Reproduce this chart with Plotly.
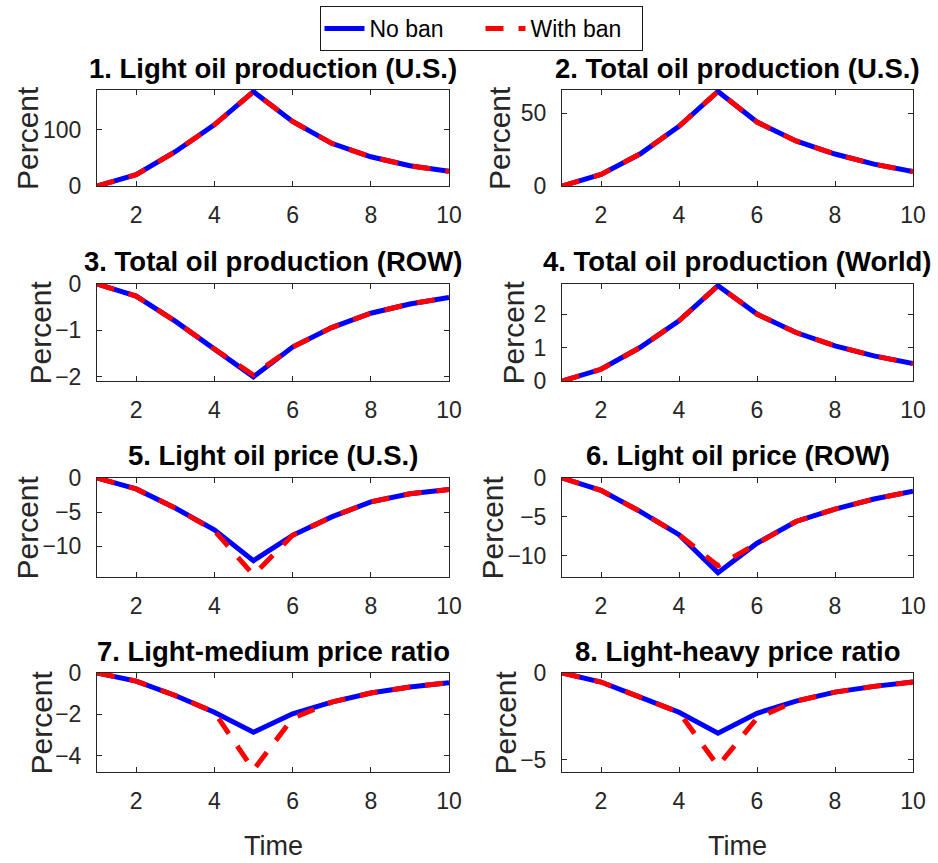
import plotly.graph_objects as go

W, H = 938, 863

# ---------------- data ----------------
time = [1, 2, 3, 4, 5, 6, 7, 8, 9, 10]

titles = [
    "1. Light oil production (U.S.)",
    "2. Total oil production (U.S.)",
    "3. Total oil production (ROW)",
    "4. Total oil production (World)",
    "5. Light oil price (U.S.)",
    "6. Light oil price (ROW)",
    "7. Light-medium price ratio",
    "8. Light-heavy price ratio",
]

p1_no_ban = [0, 20, 61, 109, 168, 115, 76, 52, 36, 26]
p1_with_ban = [0, 20, 61, 109, 168, 115, 76, 52, 36, 26]

p2_no_ban = [0, 8, 22, 41, 65, 44, 31, 22, 15, 10]
p2_with_ban = [0, 8, 22, 41, 65, 44, 31, 22, 15, 10]

p3_no_ban = [0, -0.26, -0.8, -1.4, -2.0, -1.36, -0.94, -0.63, -0.43, -0.29]
p3_with_ban = [0, -0.26, -0.8, -1.4, -1.96, -1.36, -0.94, -0.63, -0.43, -0.29]

p4_no_ban = [0, 0.35, 1.0, 1.8, 2.85, 2.0, 1.45, 1.05, 0.75, 0.52]
p4_with_ban = [0, 0.35, 1.0, 1.8, 2.85, 2.0, 1.45, 1.05, 0.75, 0.52]

p5_no_ban = [0, -1.6, -4.4, -7.6, -12.1, -8.4, -5.7, -3.5, -2.3, -1.7]
p5_with_ban = [0, -1.6, -4.4, -7.7, -14.2, -8.4, -5.7, -3.5, -2.3, -1.7]

p6_no_ban = [0, -1.6, -4.3, -7.3, -12.2, -8.4, -5.6, -4.0, -2.7, -1.7]
p6_with_ban = [0, -1.6, -4.3, -7.3, -11.3, -8.5, -5.6, -4.0, -2.7, -1.7]

p7_no_ban = [0, -0.39, -1.09, -1.9, -2.87, -1.98, -1.41, -0.97, -0.68, -0.47]
p7_with_ban = [0, -0.39, -1.09, -1.9, -4.7, -2.2, -1.41, -0.97, -0.68, -0.47]

p8_no_ban = [0, -0.52, -1.39, -2.26, -3.47, -2.32, -1.62, -1.1, -0.77, -0.52]
p8_with_ban = [0, -0.52, -1.39, -2.26, -5.35, -2.6, -1.62, -1.1, -0.77, -0.52]

no_ban_series = [p1_no_ban, p2_no_ban, p3_no_ban, p4_no_ban,
                 p5_no_ban, p6_no_ban, p7_no_ban, p8_no_ban]
with_ban_series = [p1_with_ban, p2_with_ban, p3_with_ban, p4_with_ban,
                   p5_with_ban, p6_with_ban, p7_with_ban, p8_with_ban]

x_ticks = [2, 4, 6, 8, 10]
y_ticks = [
    [0, 100],
    [0, 50],
    [-2, -1, 0],
    [0, 1, 2],
    [-10, -5, 0],
    [-10, -5, 0],
    [-4, -2, 0],
    [-5, 0],
]
y_ranges = [
    [0, 171],
    [0, 66],
    [-2.09, 0],
    [0, 2.9],
    [-14.5, 0],
    [-12.75, 0],
    [-4.8, 0],
    [-5.7, 0],
]

# ---------------- layout geometry (pixels) ----------------
col_x = [(97, 449), (562, 913)]
row_y = [(90, 186), (284, 381), (478, 577), (673, 772)]
percent_x = [27, 499, 40, 513, 27, 492, 41, 505]

FONT = "Liberation Sans, Arial, Helvetica, sans-serif"
AX = "#262626"

fig = go.Figure()
annotations = []
layout = {}

for i in range(8):
    r, c = divmod(i, 2)
    x0, x1 = col_x[c]
    y0, y1 = row_y[r]
    k = "" if i == 0 else str(i + 1)
    xa, ya = "x" + k, "y" + k

    fig.add_trace(go.Scatter(
        x=time, y=no_ban_series[i], mode="lines", name="No ban",
        line=dict(color="#0000FF", width=5),
        xaxis=xa, yaxis=ya, showlegend=(i == 0), legendgroup="a"))
    fig.add_trace(go.Scatter(
        x=time, y=with_ban_series[i], mode="lines", name="With ban",
        line=dict(color="#FF0000", width=5, dash="18px,15px"),
        xaxis=xa, yaxis=ya, showlegend=(i == 0), legendgroup="b"))

    common = dict(showline=True, mirror="ticks", linecolor=AX, linewidth=1,
                  ticks="inside", ticklen=5, tickcolor=AX, tickwidth=1,
                  showgrid=False, zeroline=False,
                  tickfont=dict(family=FONT, size=23, color=AX))
    layout["xaxis" + k] = dict(
        domain=[x0 / W, x1 / W], anchor=ya, range=[1, 10],
        tickvals=x_ticks, ticklabelstandoff=8, **common)
    layout["yaxis" + k] = dict(
        domain=[1 - y1 / H, 1 - y0 / H], anchor=xa, range=y_ranges[i],
        tickvals=y_ticks[i], ticklabelstandoff=10, **common)

    # subplot title
    annotations.append(dict(
        text="<b>" + titles[i] + "</b>", xref="paper", yref="paper",
        x=(x0 + x1) / 2 / W, y=1 - (y0 - 22) / H,
        xanchor="center", yanchor="middle", showarrow=False,
        font=dict(family=FONT, size=27.5, color="black")))
    # y label
    annotations.append(dict(
        text="Percent", xref="paper", yref="paper",
        x=percent_x[i] / W, y=1 - (y0 + y1) / 2 / H, textangle=-90,
        xanchor="center", yanchor="middle", showarrow=False,
        font=dict(family=FONT, size=30, color=AX)))
    if r == 3:
        annotations.append(dict(
            text="Time", xref="paper", yref="paper",
            x=(x0 + x1) / 2 / W, y=1 - 846 / H,
            xanchor="center", yanchor="middle", showarrow=False,
            font=dict(family=FONT, size=27, color=AX)))

fig.update_layout(
    width=W, height=H,
    margin=dict(l=0, r=0, t=0, b=0, autoexpand=False),
    paper_bgcolor="white", plot_bgcolor="white",
    font=dict(family=FONT, color=AX),
    annotations=annotations,
    legend=dict(orientation="h", xref="container", yref="container",
                x=481 / W, xanchor="center",
                y=1 - 6 / H, yanchor="top",
                bordercolor="#1a1a1a", borderwidth=1, bgcolor="white",
                font=dict(family=FONT, size=23, color="black"),
                itemwidth=40, tracegroupgap=0, entrywidth=106),
    **layout,
)

fig.write_html("out.html")
